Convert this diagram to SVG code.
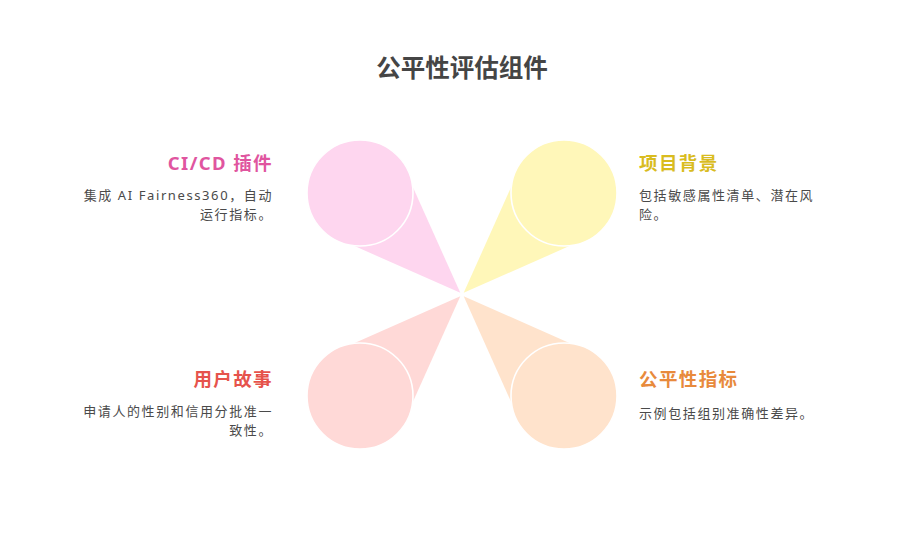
<svg xmlns="http://www.w3.org/2000/svg" width="924" height="540" viewBox="0 0 924 540">
<style>
text{font-family:"Noto Sans","Noto Sans CJK SC",sans-serif;}
.title{font-size:24.5px;font-weight:bold;fill:#454545;text-anchor:middle;}
.lbl{font-size:18.5px;font-weight:bold;letter-spacing:1.4px;}
.desc{font-size:13px;fill:#4a4a4a;letter-spacing:1.6px;}
.r{text-anchor:end;}
.petal{stroke:none;}
.bulb{stroke:#ffffff;stroke-width:1.6;}
</style>
<rect width="924" height="540" fill="#ffffff"/>
<text class="title" x="462" y="77">公平性评估组件</text>

<g id="node-cicd">
  <polygon class="petal" fill="#FED6EF" points="460.3,292.8 412.6,186.5 353.5,245.6"/>
  <circle class="bulb" fill="#FED6EF" cx="360" cy="193" r="53"/>
  <text class="lbl r" x="273" y="170" fill="#E0559F">CI/CD 插件</text>
  <text class="desc r" x="273" y="200">集成 AI Fairness360，自动</text>
  <text class="desc r" x="273" y="219">运行指标。</text>
</g>

<g id="node-background">
  <polygon class="petal" fill="#FFF7B9" points="463.7,292.8 570.5,245.6 511.4,186.5"/>
  <circle class="bulb" fill="#FFF7B9" cx="564" cy="193" r="53"/>
  <text class="lbl" x="639" y="170" fill="#D9BC1F">项目背景</text>
  <text class="desc" x="639" y="200">包括敏感属性清单、潜在风</text>
  <text class="desc" x="639" y="219">险。</text>
</g>

<g id="node-userstory">
  <polygon class="petal" fill="#FFD9D7" points="460.3,296.2 353.5,343.4 412.6,402.5"/>
  <circle class="bulb" fill="#FFD9D7" cx="360" cy="396" r="53"/>
  <text class="lbl r" x="273" y="386" fill="#E6534C">用户故事</text>
  <text class="desc r" x="273" y="416">申请人的性别和信用分批准一</text>
  <text class="desc r" x="273" y="435">致性。</text>
</g>

<g id="node-metrics">
  <polygon class="petal" fill="#FFE3CC" points="463.7,296.2 570.5,343.4 511.4,402.5"/>
  <circle class="bulb" fill="#FFE3CC" cx="564" cy="396" r="53"/>
  <text class="lbl" x="639" y="386" fill="#E88A3C">公平性指标</text>
  <text class="desc" x="639" y="418">示例包括组别准确性差异。</text>
</g>
</svg>
